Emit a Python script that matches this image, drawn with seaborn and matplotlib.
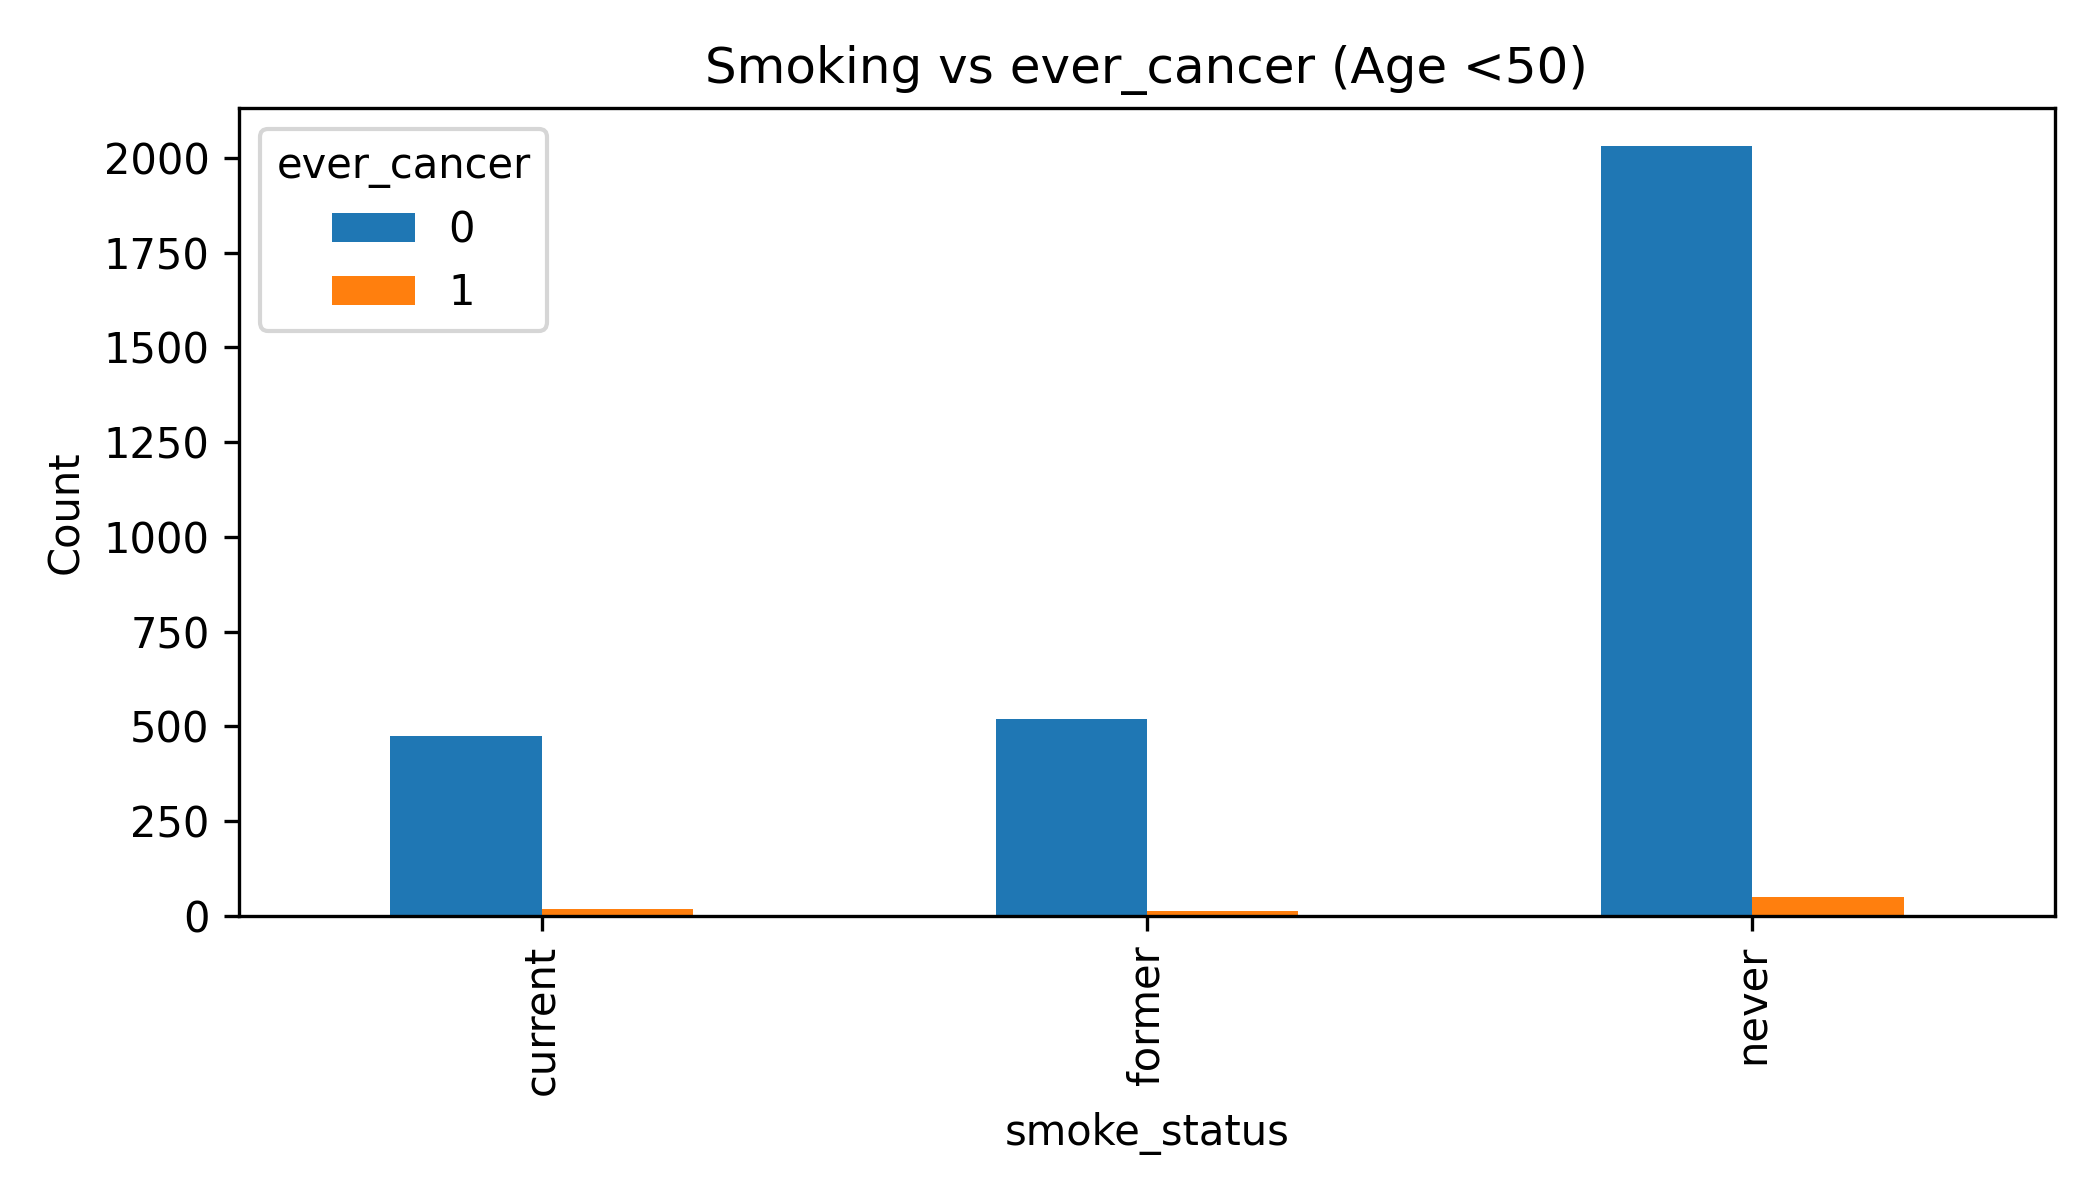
import pandas as pd
import matplotlib
matplotlib.use('Agg')
import matplotlib.pyplot as plt
import seaborn as sns

smoke_status = ['current', 'former', 'never']
count_no_cancer = [475, 520, 2030]
count_cancer = [18, 12, 50]

df = pd.DataFrame({
    'smoke_status': smoke_status * 2,
    'ever_cancer': ['0'] * 3 + ['1'] * 3,
    'Count': count_no_cancer + count_cancer,
})

fig, ax = plt.subplots(figsize=(7, 4), dpi=300)
sns.barplot(data=df, x='smoke_status', y='Count', hue='ever_cancer',
            palette=['#1f77b4', '#ff7f0e'], width=0.5, saturation=1, ax=ax)
ax.set_title('Smoking vs ever_cancer (Age <50)')
ax.set_xlabel('smoke_status')
ax.set_ylabel('Count')
ax.tick_params(axis='x', labelrotation=90)
ax.legend(title='ever_cancer', loc='upper left')
plt.tight_layout()
plt.savefig('out.png', dpi=300)
